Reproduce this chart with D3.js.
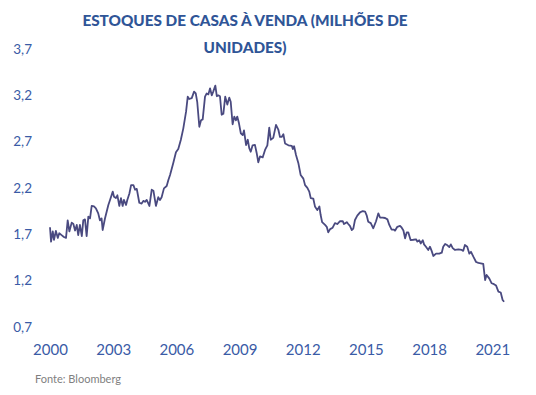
<!DOCTYPE html>
<meta charset="utf-8">
<style>
body { margin: 0; background: #fff; }
text { font-family: Lato, "Open Sans", sans-serif; }
</style>
<body>
<script src="https://cdnjs.cloudflare.com/ajax/libs/d3/7.8.5/d3.min.js"></script>
<script>

var width = 536,
    height = 395;

// estoques de casas à venda, milhões de unidades
var years = [
  2000.00, 2000.05, 2000.13, 2000.19, 2000.28, 2000.37, 2000.44, 2000.55, 2000.66, 2000.76,
  2000.84, 2000.92, 2001.03, 2001.11, 2001.19, 2001.27, 2001.34, 2001.42, 2001.51, 2001.58,
  2001.66, 2001.74, 2001.82, 2001.90, 2001.98, 2002.09, 2002.18, 2002.29, 2002.37, 2002.45,
  2002.50, 2002.61, 2002.77, 2002.85, 2002.98, 2003.04, 2003.13, 2003.20, 2003.29, 2003.37,
  2003.45, 2003.51, 2003.61, 2003.67, 2003.77, 2003.85, 2003.96, 2004.04, 2004.12, 2004.24,
  2004.35, 2004.43, 2004.51, 2004.59, 2004.72, 2004.83, 2004.91, 2005.03, 2005.14, 2005.22,
  2005.30, 2005.41, 2005.54, 2005.62, 2005.70, 2005.85, 2005.98, 2006.09, 2006.21, 2006.33,
  2006.46, 2006.54, 2006.61, 2006.73, 2006.84, 2006.92, 2006.99, 2007.09, 2007.17, 2007.25,
  2007.36, 2007.44, 2007.52, 2007.60, 2007.68, 2007.75, 2007.85, 2007.92, 2007.99, 2008.07,
  2008.15, 2008.23, 2008.32, 2008.42, 2008.51, 2008.58, 2008.67, 2008.75, 2008.83, 2008.89,
  2008.97, 2009.06, 2009.15, 2009.21, 2009.31, 2009.39, 2009.46, 2009.53, 2009.62, 2009.73,
  2009.81, 2009.89, 2009.97, 2010.10, 2010.21, 2010.32, 2010.41, 2010.48, 2010.60, 2010.73,
  2010.84, 2010.92, 2011.00, 2011.08, 2011.16, 2011.32, 2011.48, 2011.53, 2011.59, 2011.68,
  2011.79, 2011.90, 2012.03, 2012.11, 2012.22, 2012.31, 2012.38, 2012.50, 2012.58, 2012.69,
  2012.79, 2012.85, 2012.92, 2013.06, 2013.14, 2013.21, 2013.30, 2013.42, 2013.53, 2013.64,
  2013.77, 2013.90, 2013.96, 2014.09, 2014.16, 2014.24, 2014.33, 2014.40, 2014.48, 2014.59,
  2014.72, 2014.85, 2014.96, 2015.04, 2015.11, 2015.23, 2015.35, 2015.48, 2015.59, 2015.67,
  2015.80, 2015.91, 2016.02, 2016.11, 2016.22, 2016.33, 2016.38, 2016.49, 2016.62, 2016.70,
  2016.78, 2016.86, 2016.94, 2017.01, 2017.12, 2017.25, 2017.38, 2017.44, 2017.53, 2017.60,
  2017.70, 2017.76, 2017.85, 2017.96, 2018.04, 2018.12, 2018.20, 2018.33, 2018.48, 2018.60,
  2018.67, 2018.76, 2018.87, 2018.96, 2019.03, 2019.12, 2019.23, 2019.39, 2019.55, 2019.62,
  2019.70, 2019.81, 2019.91, 2019.99, 2020.10, 2020.23, 2020.34, 2020.45, 2020.57, 2020.66,
  2020.73, 2020.86, 2020.97, 2021.08, 2021.18, 2021.29, 2021.40, 2021.49, 2021.56
];

var values = [
  1.775, 1.62, 1.73, 1.64, 1.735, 1.66, 1.71, 1.69, 1.67, 1.66,
  1.85, 1.73, 1.825, 1.81, 1.74, 1.80, 1.69, 1.80, 1.68, 1.85,
  1.86, 1.68, 1.89, 1.87, 2.005, 2.00, 1.98, 1.925, 1.85, 1.87,
  1.745, 1.87, 2.015, 2.07, 2.16, 2.105, 2.09, 2.12, 2.005, 2.09,
  2.005, 2.07, 2.015, 2.07, 2.14, 2.23, 2.23, 2.18, 2.19, 2.04,
  2.03, 2.06, 2.05, 2.07, 2.005, 2.18, 2.17, 2.005, 2.10, 2.07,
  2.10, 2.195, 2.22, 2.285, 2.34, 2.466, 2.585, 2.62, 2.717, 2.843,
  3.023, 3.185, 3.16, 3.17, 3.24, 3.22, 3.13, 2.86, 2.93, 2.94,
  3.185, 3.22, 3.21, 3.275, 3.20, 3.24, 3.305, 3.19, 3.20, 3.19,
  2.99, 3.00, 3.185, 3.10, 3.175, 3.13, 2.887, 2.97, 2.93, 2.97,
  2.90, 2.79, 2.77, 2.82, 2.663, 2.72, 2.63, 2.59, 2.66, 2.665,
  2.58, 2.477, 2.54, 2.53, 2.61, 2.66, 2.85, 2.72, 2.74, 2.88,
  2.83, 2.75, 2.75, 2.78, 2.68, 2.66, 2.655, 2.62, 2.65, 2.555,
  2.47, 2.34, 2.30, 2.23, 2.20, 2.16, 2.09, 2.085, 2.00, 1.96,
  2.00, 1.907, 1.83, 1.80, 1.78, 1.72, 1.755, 1.77, 1.82, 1.81,
  1.84, 1.84, 1.81, 1.83, 1.81, 1.79, 1.745, 1.76, 1.853, 1.90,
  1.936, 1.95, 1.945, 1.90, 1.835, 1.82, 1.764, 1.84, 1.925, 1.88,
  1.88, 1.875, 1.86, 1.80, 1.75, 1.75, 1.738, 1.78, 1.79, 1.77,
  1.74, 1.656, 1.72, 1.72, 1.637, 1.64, 1.645, 1.62, 1.635, 1.60,
  1.635, 1.59, 1.565, 1.53, 1.565, 1.52, 1.465, 1.49, 1.49, 1.50,
  1.565, 1.594, 1.58, 1.56, 1.59, 1.55, 1.53, 1.535, 1.53, 1.52,
  1.583, 1.565, 1.49, 1.51, 1.457, 1.40, 1.39, 1.386, 1.38, 1.205,
  1.26, 1.22, 1.17, 1.16, 1.145, 1.08, 1.07, 0.99, 0.97
];

var yTicks = [0.7, 1.2, 1.7, 2.2, 2.7, 3.2, 3.7];
var xTicks = [2000, 2003, 2006, 2009, 2012, 2015, 2018, 2021];

var titleLines = ["ESTOQUES DE CASAS À VENDA (MILHÕES DE", "UNIDADES)"];
var source = "Fonte: Bloomberg";

var svg = d3.select("body").append("svg")
    .attr("width", width)
    .attr("height", height);

svg.append("rect")
    .attr("width", width)
    .attr("height", height)
    .attr("fill", "#fff");

var x = d3.scaleLinear()
    .domain([2000, 2021])
    .range([50, 492.3]);

var y = d3.scaleLinear()
    .domain([0.7, 3.7])
    .range([326.8, 49]);

var label = "#3a5ba6";

var yAxis = svg.append("g")
    .attr("transform", "translate(32,0)")
    .call(d3.axisLeft(y)
        .tickValues(yTicks)
        .tickSize(0)
        .tickPadding(0)
        .tickFormat(function(d) { return d3.format(".1f")(d).replace(".", ","); }));

var xAxis = svg.append("g")
    .attr("transform", "translate(0,338)")
    .call(d3.axisBottom(x)
        .tickValues(xTicks)
        .tickSize(0)
        .tickPadding(6)
        .tickFormat(d3.format("d")));

svg.selectAll(".domain").remove();
yAxis.selectAll("text").attr("fill", label).style("font-size", "13.5px")
    .style("font-family", "Lato, sans-serif");
xAxis.selectAll("text").attr("fill", label).style("font-size", "15px")
    .style("font-family", "Lato, sans-serif");

var line = d3.line()
    .x(function(d, i) { return x(years[i]); })
    .y(function(d) { return y(d); });

svg.append("path")
    .datum(values)
    .attr("fill", "none")
    .attr("stroke", "#4a4a80")
    .attr("stroke-width", 1.8)
    .attr("stroke-linejoin", "round")
    .attr("d", line);

svg.selectAll(".title")
    .data(titleLines)
  .enter().append("text")
    .attr("class", "title")
    .attr("x", 245)
    .attr("y", function(d, i) { return 26 + i * 27; })
    .attr("text-anchor", "middle")
    .attr("fill", "#2f5597")
    .style("font-weight", "900")
    .style("font-size", "15.3px")
    .text(function(d) { return d; });

svg.append("text")
    .attr("x", 35)
    .attr("y", 383)
    .attr("fill", "#7f7f7f")
    .style("font-size", "11px")
    .text(source);

</script>
